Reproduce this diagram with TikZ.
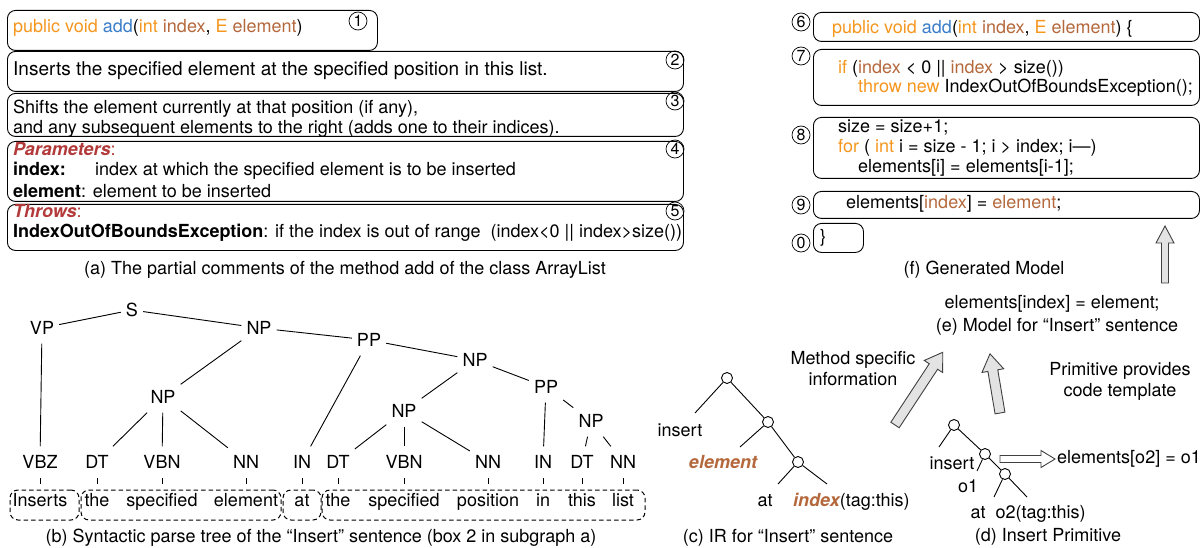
\documentclass[tikz,border=0pt]{standalone}
\usepackage{fontspec}
\setmainfont{TeX Gyre Heros}
\usetikzlibrary{calc}
\definecolor{jor}{HTML}{F5961E}
\definecolor{jbl}{HTML}{3A7DC8}
\definecolor{jbr}{HTML}{B4683C}
\definecolor{jred}{HTML}{B33A3A}
\newcommand{\blkarrow}[7]{%
  \begin{scope}[shift={#2},rotate=#3]
  \draw[#1] (0,-#5) -- ({#4-#7},-#5) -- ({#4-#7},-#6) -- (#4,0) -- ({#4-#7},#6) -- ({#4-#7},#5) -- (0,#5) -- cycle;
  \end{scope}}
\begin{document}
\begin{tikzpicture}[x=1pt,y=-1pt,
  every node/.style={font=\fontsize{18}{21}\selectfont},
  cbox/.style={draw, rounded corners=8pt, line width=0.9pt, inner sep=0pt, anchor=north west},
  num/.style={draw, circle, line width=0.7pt, inner sep=0pt, minimum size=18pt, font=\fontsize{16}{16}\selectfont},
  txt/.style={anchor=base west, inner sep=0pt},
  ctr/.style={inner sep=0pt, text height=13pt, text depth=4pt},
  tag/.style={inner xsep=5pt, inner ysep=9pt, text height=13pt, text depth=0pt},
  word/.style={inner sep=0pt, text height=13pt, text depth=4pt},
  dbox/.style={draw, dash pattern=on 4.5pt off 3pt, rounded corners=8pt, line width=1pt, inner sep=0pt, minimum height=30pt},
  tedge/.style={line width=0.9pt},
  tick/.style={line width=0.9pt, shorten <=16pt, shorten >=18pt},
  irc/.style={draw, circle, inner sep=0pt, minimum size=11pt, line width=0.9pt, fill=white},
  blk/.style={draw=black!75, fill=black!11, line width=0.9pt, line join=miter},
  hollow/.style={draw=black!75, fill=white, line width=0.9pt, line join=miter},
]
\useasboundingbox (0,0) rectangle (1202,548);

% ---------- (a) comment boxes ----------
\node[cbox, minimum width=370pt, minimum height=40pt] (b1) at (7,10) {};
\node[cbox, minimum width=676pt, minimum height=40pt] (b2) at (7,51) {};
\node[cbox, minimum width=676pt, minimum height=43pt] (b3) at (7,93) {};
\node[cbox, minimum width=676pt, minimum height=60pt] (b4) at (7,141) {};
\node[cbox, minimum width=676pt, minimum height=46pt] (b5) at (7,204) {};
\node[num] (n1) at (358,21) {1};
\node[num] (n2) at (675,60) {2};
\node[num] (n3) at (675,101) {3};
\node[num] (n4) at (675,149) {4};
\node[num] (n5) at (675,211) {5};

\node[txt] (t1) at (13,33) {{\color{jor}public void} {\color{jbl}add}({\color{jor}int} {\color{jbr}index}, {\color{jor}E} {\color{jbr}element})};
\node[txt, font=\fontsize{19}{21}\selectfont] (t2) at (13,76) {Inserts the specified element at the specified position in this list.};
\node[txt] (t3a) at (13,114) {Shifts the element currently at that position (if any),};
\node[txt] (t3b) at (13,134) {and any subsequent elements to the right (adds one to their indices).};
\node[txt] (t4a) at (13,156) {\color{jred}{\bfseries\itshape Parameters}:};
\node[txt] (t4b) at (13,176) {\makebox[82pt][l]{\bfseries index:}index at which the specified element is to be inserted};
\node[txt] (t4c) at (13,198) {\textbf{element}: element to be inserted};
\node[txt] (t5a) at (13,218) {\color{jred}{\bfseries\itshape Throws}:};
\node[txt] (t5b) at (13,237) {\textbf{IndexOutOfBoundsException}: if the index is out of range\hspace{5pt} (index<0 || index>size())};
\node[ctr] (capa) at (345,270) {(a) The partial comments of the method add of the class ArrayList};

% ---------- (f) generated model ----------
\node[cbox, minimum width=386pt, minimum height=29pt] (b6) at (813,12) {};
\node[cbox, minimum width=386pt, minimum height=56pt] (b7) at (813,49) {};
\node[cbox, minimum width=386pt, minimum height=61pt] (b8) at (813,117) {};
\node[cbox, minimum width=386pt, minimum height=27pt] (b9) at (813,191) {};
\node[cbox, minimum width=50pt, minimum height=29pt] (b0) at (813,223) {};
\node[num] (n6) at (801,22) {6};
\node[num] (n7) at (801,56) {7};
\node[num] (n8) at (801,135) {8};
\node[num] (n9) at (801,205) {9};
\node[num] (n0) at (801,243) {0};

\node[txt] (t6) at (832,34) {{\color{jor}public void} {\color{jbl}add}({\color{jor}int} {\color{jbr}index}, {\color{jor}E} {\color{jbr}element}) \{};
\node[txt] (t7a) at (838,74) {{\color{jor}if} ({\color{jbr}index} < 0 || {\color{jbr}index} > size())};
\node[txt] (t7b) at (858,93) {{\color{jor}throw new} IndexOutOfBoundsException();};
\node[txt] (t8a) at (838,133) {size = size+1;};
\node[txt] (t8b) at (838,153) {{\color{jor}for} ( {\color{jor}int} i = size - 1; i > index; i—)};
\node[txt] (t8c) at (858,173) {elements[i] = elements[i-1];};
\node[txt] (t9) at (846,209) {elements[{\color{jbr}index}] = {\color{jbr}element};};
\node[txt] (t0) at (820,243) {\}};
\node[ctr] (capf) at (984,270) {(f) Generated Model};

% ---------- (e) ----------
\node[ctr] (e1) at (1052,304) {elements[index] = element;};
\node[ctr] (cape) at (1057,327) {(e) Model for “Insert” sentence};
\node[align=center, inner sep=0pt] (msi) at (853,369) {Method specific\\information};
\node[align=center, inner sep=0pt] (ppc) at (1120,381) {Primitive provides\\code template};

% block arrows
\blkarrow{blk}{(895,425)}{56.7}{87}{5}{11}{17}
\blkarrow{blk}{(1000,413)}{99.6}{60}{5}{11}{17}
\blkarrow{blk}{(1165,283)}{90}{57}{3.5}{9}{17}
\blkarrow{hollow}{(1000,459)}{0}{55}{3.5}{8.5}{14}

% ---------- (b) parse tree ----------
\node[tag] (S) at (132,310) {S};
\node[tag] (VP) at (42,328) {VP};
\node[tag] (NP1) at (259,328) {NP};
\node[tag] (PP1) at (369,340) {PP};
\node[tag] (NP2) at (475,360) {NP};
\node[tag] (PP2) at (546,387) {PP};
\node[tag] (NPa) at (163,397) {NP};
\node[tag] (NP3) at (404,411) {NP};
\node[tag] (NP4) at (591,421) {NP};
\foreach \i/\x/\t/\w in {1/40/VBZ/Inserts, 2/97/DT/the, 3/162/VBN/specified, 4/246/NN/element, 5/302/IN/at, 6/338/DT/the, 7/404/VBN/specified, 8/488/NN/position, 9/543/IN/in, 10/582/DT/this, 11/623/NN/list}{
  \node[tag] (p\i) at (\x,462) {\t};
  \node[word] (w\i) at (\x,502) {\w};
  \draw[tick] (p\i.center) -- (w\i.center);
}
\foreach \a/\b in {S/VP, S/NP1, NP1/PP1, PP1/NP2, NP2/PP2, PP2/NP4, NP4/p10, NP4/p11, PP2/p9, NP2/NP3, NP3/p6, NP3/p7, NP3/p8, PP1/p5, NP1/NPa, NPa/p2, NPa/p3, NPa/p4, VP/p1}{
  \draw[tedge] (\a) -- (\b);
}
\node[dbox, minimum width=69pt] (db1) at (44.5,505) {};
\node[dbox, minimum width=200pt] (db2) at (181,505) {};
\node[dbox, minimum width=38pt] (db3) at (302,505) {};
\node[dbox, minimum width=323pt] (db4) at (483.5,505) {};
\node[ctr] (capb) at (321,538) {(b) Syntactic parse tree of the “Insert” sentence (box 2 in subgraph a)};

% ---------- (c) IR ----------
\node[irc] (ir1) at (727,378) {};
\node[irc] (ir2) at (768,422) {};
\node[irc] (ir3) at (798,462) {};
\coordinate (ir1l) at (695,413);
\coordinate (ir2l) at (740,447);
\coordinate (ir3l) at (778,484);
\coordinate (ir3r) at (827,484);
\draw[tedge] (ir1) -- (ir1l);
\draw[tedge] (ir1) -- (ir2);
\draw[tedge] (ir2) -- (ir2l);
\draw[tedge] (ir2) -- (ir3);
\draw[tedge] (ir3) -- (ir3l);
\draw[tedge] (ir3) -- (ir3r);
\node[word] (irA) at (680,432) {insert};
\node[word, text=jbr, font=\fontsize{18}{21}\selectfont\bfseries\itshape] (irB) at (723,464) {element};
\node[word] (irC) at (765,502) {at};
\node[word, anchor=west] (irD) at (793,502) {{\color{jbr}\bfseries\itshape index}(tag:this)};
\node[ctr] (capc) at (788,538) {(c) IR for “Insert” sentence};

% ---------- (d) primitive ----------
\node[irc] (pr1) at (954,425) {};
\node[irc] (pr2) at (985,454) {};
\node[irc] (pr3) at (1005,474) {};
\coordinate (pr1l) at (939,447);
\coordinate (pr2l) at (977,471);
\coordinate (pr3l) at (994,497);
\coordinate (pr3r) at (1027,497);
\draw[tedge] (pr1) -- (pr1l);
\draw[tedge] (pr1) -- (pr2);
\draw[tedge] (pr2) -- (pr2l);
\draw[tedge] (pr2) -- (pr3);
\draw[tedge] (pr3) -- (pr3l);
\draw[tedge] (pr3) -- (pr3r);
\node[word] (prA) at (952,465) {insert};
\node[word] (prB) at (968,488) {o1};
\node[word] (prC) at (1028,514) {at\ \ o2(tag:this)};
\node[word, anchor=west] (prT) at (1057,459) {elements[o2] = o1};
\node[ctr] (capd) at (1048,537) {(d) Insert Primitive};
\end{tikzpicture}
\end{document}
